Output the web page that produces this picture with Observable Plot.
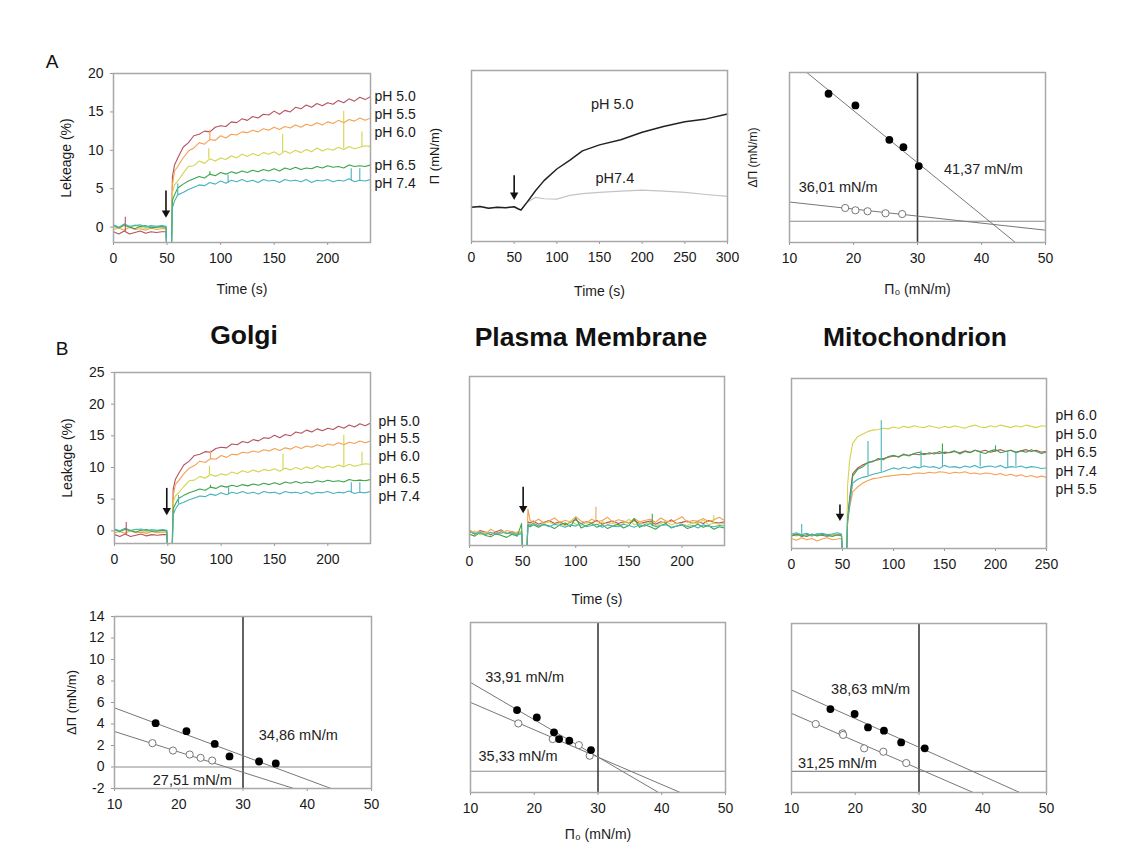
<!DOCTYPE html>
<html><head><meta charset="utf-8">
<script src="https://cdn.jsdelivr.net/npm/d3@7"></script>
<script src="https://cdn.jsdelivr.net/npm/@observablehq/plot@0.6"></script>
<style>
body{margin:0;background:#fff;font-family:"Liberation Sans",Arial,Helvetica,sans-serif;}
#root{position:relative;width:1130px;height:860px;overflow:hidden;background:#fff;}
.lbl{position:absolute;white-space:nowrap;color:#111;transform:translate(-50%,-50%);line-height:1;}
</style></head><body><div id="root"></div>
<script>
// ---------------- DATA ----------------
const PH = ["pH 5.0","pH 5.5","pH 6.0","pH 6.5","pH 7.4"];
const PH_COLORS = ["#b4525e","#f5a052","#d3d54e","#3ba54a","#47b3bb"];

// Golgi (A and B) leakage traces
const T_LEAK = [0,5,10,15,20,25,30,35,40,45,49,50,54,55,57,60,65,70,75,80,85,90,95,100,105,110,115,120,125,130,135,140,145,150,155,160,165,170,175,180,185,190,195,200,205,210,215,220,225,230,235,240];
const GOLGI_50 = [-0.6,-0.9,-0.5,-0.9,-0.7,-0.5,-0.8,-0.6,-0.7,-0.6,-0.6,-4,-4,6.5,8.1,9.0,10.4,11.0,11.9,12.1,12.5,12.4,13.0,13.2,13.1,13.7,13.6,14.1,13.9,14.4,14.2,14.7,14.6,15.1,14.7,15.2,15.0,15.6,15.4,15.9,15.6,16.1,15.8,16.2,16.0,16.5,16.2,16.7,16.4,16.9,16.6,17.0];
const GOLGI_55 = [-0.3,-0.1,-0.4,0.0,-0.3,-0.2,-0.4,-0.1,-0.3,-0.2,-0.2,-4,-4,5.5,7.3,7.9,9.0,9.9,10.3,11.0,10.8,11.4,11.3,11.9,11.6,12.1,12.0,12.4,12.3,12.6,12.4,12.8,12.6,13.0,12.7,13.1,12.9,13.3,13.0,13.4,13.2,13.6,13.3,13.7,13.5,13.9,13.6,14.0,13.8,14.2,13.9,14.2];
const GOLGI_60 = [0.1,-0.2,0.2,-0.1,0.3,0.0,-0.2,0.1,-0.1,0.0,0.0,-4,-4,4.5,5.5,6.0,7.0,7.9,8.0,8.6,8.3,8.9,8.6,9.0,8.8,9.3,9.0,9.5,9.2,9.6,9.3,9.7,9.5,9.8,9.4,9.9,9.6,10.0,9.7,10.1,9.8,10.3,9.9,10.2,10.0,10.4,10.1,10.5,10.2,10.4,10.6,10.5];
const GOLGI_65 = [0.2,-0.1,0.3,0.0,-0.2,0.1,0.2,-0.1,0.0,0.1,0.0,-4,-4,3.5,4.2,5.1,5.6,6.0,6.3,6.6,6.4,6.9,6.7,7.1,6.9,7.2,7.0,7.3,7.1,7.4,7.2,7.5,7.3,7.6,7.3,7.7,7.5,7.8,7.5,7.7,7.6,7.9,7.7,8.0,7.8,7.9,7.7,8.1,7.9,8.0,7.9,8.1];
const GOLGI_74 = [0.3,0.0,0.4,0.1,0.2,0.3,0.0,0.2,0.1,0.2,0.1,-4,-4,2.5,3.4,4.2,4.5,4.9,5.2,5.5,5.4,5.8,5.6,6.0,5.7,6.1,5.9,6.2,5.9,6.1,5.8,6.2,6.0,6.1,5.8,6.2,6.0,6.1,5.9,6.2,5.8,6.1,6.0,6.2,5.9,6.1,6.0,6.3,5.9,6.1,6.0,6.2];
const GOLGI_SPIKE_PH = ["pH 5.0","pH 5.5","pH 6.0","pH 6.0","pH 6.0","pH 6.0","pH 6.5","pH 7.4","pH 7.4","pH 7.4","pH 7.4"];
const GOLGI_SPIKE_T  = [11,90,89,158,215,232,90,60,107,222,230];
const GOLGI_SPIKE_LO = [-0.6,11.3,8.9,9.7,10.2,10.4,6.7,4.2,5.7,6.0,6.0];
const GOLGI_SPIKE_HI = [1.3,12.6,10.2,12.1,15.1,12.4,7.2,5.6,6.8,7.6,7.6];
const A_LABEL_Y = [17.0,14.6,12.3,8.0,5.7];
const B_LABEL_Y = [17.3,14.6,11.7,8.3,5.4];

// Plasma membrane leakage traces
const PM_50 = [0.3,-0.2,0.4,0.1,-0.3,0.2,0.5,-0.1,0.2,0.0,0.1,-3,-3,1.8,1.6,1.9,1.4,1.7,2.0,1.5,1.8,1.3,1.7,2.1,1.5,1.8,1.6,2.0,1.4,1.7,1.9,1.5,1.8,1.6,2.0,1.5,1.7,1.9,1.4,1.8,1.6,2.1,1.5,1.7,1.9,1.6,1.8,1.5,2.0,1.7,1.6,1.8];
const PM_55 = [0.5,0.0,0.3,-0.2,0.6,0.1,-0.1,0.4,0.2,-0.2,0.3,-3,-3,3.8,2.0,1.7,2.2,1.6,1.9,2.4,1.7,2.0,1.8,2.6,1.9,1.6,2.2,1.8,2.0,2.5,1.7,2.1,1.9,1.6,2.3,1.8,2.0,2.2,1.7,2.4,1.9,1.8,2.1,2.6,1.7,2.0,1.9,2.3,1.8,2.1,2.5,2.0];
const PM_60 = [0.0,0.3,-0.3,0.2,0.0,-0.2,0.3,0.1,-0.3,0.2,0.0,-3,-3,1.5,1.3,1.6,1.2,1.5,1.8,1.3,1.6,1.1,1.9,1.4,1.2,1.7,1.5,1.3,1.8,1.4,1.6,1.2,1.5,2.2,1.3,1.6,1.4,1.7,1.2,1.5,1.9,1.3,1.6,1.4,1.2,1.7,1.5,2.1,1.3,1.6,1.4,1.5];
const PM_65 = [-0.2,-0.5,0.1,-0.4,-0.6,-0.1,-0.4,-0.7,-0.2,-0.5,1.5,-3,-3,1.2,1.0,1.3,0.9,1.4,1.1,0.7,1.3,1.6,1.0,2.4,0.8,1.2,1.5,0.9,1.3,0.7,1.1,1.4,0.8,1.2,2.3,0.9,1.3,1.0,0.6,1.2,1.5,0.8,1.1,1.3,0.7,1.0,1.4,0.9,1.2,0.6,1.0,0.8];
const PM_74 = [0.2,-0.1,0.0,-0.3,0.1,-0.2,0.2,-0.1,0.0,-0.3,-0.1,-3,-3,1.4,1.2,1.5,1.1,1.3,1.0,1.4,1.2,0.9,1.3,1.1,1.5,1.0,1.2,1.4,0.9,1.3,1.1,1.0,1.4,1.2,0.9,1.3,1.1,1.5,1.0,1.2,1.3,0.9,1.1,1.4,1.0,1.2,0.8,1.3,1.1,1.0,1.2,1.1];
const PM_SPIKE_PH = ["pH 5.5","pH 6.5","pH 6.0"];
const PM_SPIKE_T  = [119,172,230];
const PM_SPIKE_LO = [2.0,1.0,1.5];
const PM_SPIKE_HI = [4.1,3.0,2.8];

// Mitochondrion leakage traces
const T_MITO = [0,5,10,15,20,25,30,35,40,45,49,50,54,55,57,60,65,70,75,80,85,90,95,100,105,110,115,120,125,130,135,140,145,150,155,160,165,170,175,180,185,190,195,200,205,210,215,220,225,230,235,240,245,250];
const MITO_50 = [0.1,0.3,-0.1,0.2,0.0,0.3,0.1,-0.1,0.2,0.1,0.2,-3,-3,3.0,6.0,9.9,10.8,11.3,11.6,11.9,12.1,12.3,12.5,12.7,12.6,12.9,12.8,13.0,12.9,13.1,13.0,13.2,13.1,13.3,13.2,13.4,13.2,13.5,13.3,13.6,13.4,13.6,13.3,13.5,13.7,13.4,13.6,13.3,13.5,13.7,13.4,13.6,13.3,13.4];
const MITO_55 = [-0.4,-0.7,-0.3,-0.6,-0.4,-0.8,-0.5,-0.3,-0.6,-0.5,-0.4,-3,-3,2.0,4.5,7.0,7.8,8.4,8.8,9.1,9.2,9.4,9.5,9.6,9.7,9.8,9.7,9.9,10.0,9.9,10.1,10.0,10.2,10.1,9.9,10.1,10.0,10.2,9.9,10.0,9.8,10.0,9.9,9.7,9.9,9.6,9.8,9.5,9.7,9.4,9.6,9.3,9.5,9.3];
const MITO_60 = [0.2,0.0,0.3,-0.1,0.2,0.1,0.3,0.0,0.2,0.1,0.1,-3,-3,8.0,12.0,14.7,15.8,16.2,16.6,16.8,16.9,17.1,17.0,17.3,17.1,17.4,17.2,17.5,17.3,17.2,17.5,17.3,17.1,17.4,17.2,17.5,17.3,17.1,17.4,17.6,17.3,17.2,17.5,17.3,17.6,17.4,17.2,17.5,17.3,17.6,17.4,17.2,17.5,17.4];
const MITO_65 = [0.0,0.2,0.1,-0.1,0.3,0.0,0.2,0.1,-0.1,0.2,0.0,-3,-3,2.5,5.5,9.5,10.6,11.0,11.7,11.8,12.3,12.1,12.6,12.8,12.5,13.0,12.7,13.1,13.3,12.9,13.2,13.0,13.4,13.1,13.3,13.5,13.0,13.4,13.2,13.6,13.3,13.1,13.5,13.7,13.2,13.4,13.6,13.2,13.5,13.3,13.7,13.4,13.1,13.3];
const MITO_74 = [0.3,0.5,0.2,0.4,0.1,0.3,0.4,0.2,0.3,0.5,0.3,-3,-3,2.5,5.0,8.4,9.0,9.3,9.5,9.8,10.0,10.2,10.5,10.8,10.6,10.9,10.7,11.0,10.8,11.1,10.9,11.0,10.7,11.2,10.9,11.0,10.8,11.1,10.9,11.2,10.8,11.0,11.1,10.9,11.2,10.8,11.0,10.9,11.1,10.8,11.0,10.9,10.7,10.8];
const MITO_SPIKE_PH = ["pH 7.4","pH 7.4","pH 7.4","pH 7.4","pH 7.4","pH 7.4","pH 7.4","pH 7.4","pH 6.5","pH 6.5","pH 6.5","pH 6.0","pH 7.4"];
const MITO_SPIKE_T  = [10,75,88,127,148,185,212,220,148,200,250,250,250];
const MITO_SPIKE_LO = [0.3,9.5,10.1,10.9,11.0,11.0,10.9,11.0,13.1,13.3,-3,17.4,-3];
const MITO_SPIKE_HI = [1.8,15.0,18.3,13.5,13.8,13.0,13.2,13.4,14.6,14.3,13.3,20.0,10.8];
const MITO_LABELS = ["pH 6.0","pH 5.0","pH 6.5","pH 7.4","pH 5.5"];
const MITO_LABEL_Y = [19.2,16.1,13.2,10.2,7.3];

// Injection arrows [time, top, tip]
const ARROW_A1 = [49,4.7,1.6];
const ARROW_B1 = [49,6.7,2.9];
const ARROW_PM = [50.5,7.3,3.6];
const ARROW_MITO = [47.5,4.9,2.8];
const ARROW_PI = [50,3.85,2.6];

// Surface pressure traces (A, middle)
const T_PI = [0,10,20,30,40,50,55,58,65,75,85,100,115,130,150,175,200,225,250,275,300];
const PI_50 = [2.0,2.05,1.95,2.0,1.98,2.03,1.9,1.84,2.29,2.97,3.56,4.24,4.75,5.3,5.65,5.95,6.39,6.72,7.0,7.17,7.46];
const PI_74 = [2.0,2.05,1.95,2.0,1.98,2.03,1.9,1.84,2.3,2.58,2.5,2.48,2.7,2.8,2.87,2.95,3.01,2.95,2.87,2.75,2.64];

// ΔΠ vs Π0 data: filled (pH 5.0) and open (pH 7.4) points, fitted line ends
const A3_FX = [16.1,20.3,25.6,27.8,30.2], A3_FY = [12.0,10.9,7.66,6.97,5.19];
const A3_OX = [18.7,20.3,22.2,25.0,27.6], A3_OY = [1.25,1.03,0.94,0.75,0.68];
const A3_FLX = [12.7,45.3], A3_FLY = [14.0,-2.0];
const A3_OLX = [10,50], A3_OLY = [1.81,-0.84];
const A3_TEXT = ["41,37 mN/m","36,01 mN/m"], A3_TX = [40.3,17.6], A3_TY = [4.9,3.2];

const B4_FX = [16.4,21.2,25.6,27.9,32.5,35.1], B4_FY = [4.08,3.33,2.15,0.98,0.51,0.33];
const B4_OX = [15.9,19.1,21.7,23.4,25.2], B4_OY = [2.22,1.53,1.16,0.85,0.6];
const B4_FLX = [10,43.7], B4_FLY = [5.5,-2];
const B4_OLX = [10,37.9], B4_OLY = [3.3,-2];
const B4_TEXT = ["34,86 mN/m","27,51 mN/m"], B4_TX = [38.6,22.1], B4_TY = [2.93,-1.26];

const B5_FX = [17.3,20.4,23.1,23.9,25.5,28.9], B5_FY = [5.76,5.07,3.66,3.03,2.87,1.99];
const B5_OX = [17.5,22.9,27.0,28.7], B5_OY = [4.5,3.03,2.46,1.46];
const B5_FLX = [10,39.5], B5_FLY = [8.36,-2];
const B5_OLX = [10,42.9], B5_OLY = [6.48,-2];
const B5_TEXT = ["33,91 mN/m","35,33 mN/m"], B5_TX = [18.5,17.45], B5_TY = [8.8,1.38];

const B6_FX = [16.1,19.9,22.0,24.5,27.2,30.9], B6_FY = [5.9,5.43,4.16,3.85,2.74,2.18];
const B6_OX = [13.8,18.0,18.1,21.4,24.4,28.0], B6_OY = [4.48,3.6,3.45,2.18,1.86,0.79];
const B6_FLX = [10,45.8], B6_FLY = [7.7,-2];
const B6_OLX = [10,38.5], B6_OLY = [5.49,-2];
const B6_TEXT = ["38,63 mN/m","31,25 mN/m"], B6_TX = [22.4,17.2], B6_TY = [7.8,0.75];

// ---------------- DRAWING ----------------
const root = document.getElementById("root");
const FONT = "'Liberation Sans', Arial, Helvetica, sans-serif";
const ML = 64, MR = 70, MT = 12, MB = 66;
const fmt = d => String(d);
const zip = (xs, ys) => xs.map((x, i) => ({x, y: ys[i]}));

function panel(o) {
  const [l, t, r, b] = o.frame;
  const marks = [...o.marks];
  marks.push(Plot.axisX({ticks: o.xTicks, tickSize: 3, tickPadding: 8, tickFormat: fmt, stroke: "#999", label: null, fontSize: 14}));
  if (o.xLabel) marks.push(Plot.axisX({ticks: [], label: o.xLabel, labelAnchor: "center", labelArrow: "none", labelOffset: o.xLabelOffset, fontSize: 14}));
  if (o.yTicks) marks.push(Plot.axisY({ticks: o.yTicks, tickSize: 3, tickPadding: 7, tickFormat: fmt, stroke: "#999", label: null, fontSize: 14}));
  if (o.yLabel) marks.push(Plot.axisY({ticks: [], label: o.yLabel, labelAnchor: "center", labelArrow: "none", labelOffset: o.yLabelOffset, fontSize: o.yLabelSize || 13}));
  marks.push(Plot.frame({stroke: "#a8a8a8", strokeWidth: 1.5}));
  const svg = Plot.plot({
    width: ML + (r - l) + MR, height: MT + (b - t) + MB,
    marginLeft: ML, marginRight: MR, marginTop: MT, marginBottom: MB,
    x: {domain: o.xDomain, axis: null},
    y: {domain: o.yDomain, axis: null},
    color: {domain: PH, range: PH_COLORS},
    style: {fontFamily: FONT, fontSize: "14px", color: "#1a1a1a", background: "transparent", overflow: "visible", maxWidth: "none"},
    marks
  });
  svg.style.position = "absolute";
  svg.style.left = (l - ML) + "px";
  svg.style.top = (t - MT) + "px";
  root.append(svg);
}

function leakMarks(times, series, spk, arrow, labels, labelY, labelDx) {
  const rows = [];
  series.forEach((vals, i) => vals.forEach((v, j) => rows.push({t: times[j], v, ph: PH[i]})));
  const spikes = spk[1].map((t, i) => ({t, lo: spk[2][i], hi: spk[3][i], ph: spk[0][i]}));
  const arr = [{t: arrow[0], y1: arrow[1], y2: arrow[2]}];
  const marks = [
    Plot.line(rows, {x: "t", y: "v", z: "ph", stroke: "ph", strokeWidth: 1.1, clip: true}),
    Plot.ruleX(spikes, {x: "t", y1: "lo", y2: "hi", stroke: "ph", strokeWidth: 1.1, clip: true}),
    Plot.ruleX(arr, {x: "t", y1: "y1", y2: "y2", stroke: "#111", strokeWidth: 1.6}),
    Plot.dot(arr, {x: "t", y: "y2", symbol: "triangle2", rotate: 180, r: 4, fill: "#111", stroke: null, dy: -2})
  ];
  if (labels) marks.push(Plot.text(labels.map((s, i) => ({s, y: labelY[i]})), {y: "y", text: "s", frameAnchor: "right", textAnchor: "start", dx: labelDx, fontSize: 14}));
  return marks;
}

function piMarks(fx, fy, ox, oy, flx, fly, olx, oly, texts, tx, ty) {
  return [
    Plot.ruleY([0], {stroke: "#8c8c8c", strokeWidth: 1.2}),
    Plot.ruleX([30], {stroke: "#3c3c3c", strokeWidth: 1.6}),
    Plot.line(zip(flx, fly), {x: "x", y: "y", stroke: "#777", strokeWidth: 1, clip: true}),
    Plot.line(zip(olx, oly), {x: "x", y: "y", stroke: "#777", strokeWidth: 1, clip: true}),
    Plot.dot(zip(ox, oy), {x: "x", y: "y", r: 3.6, fill: "white", stroke: "#777", strokeWidth: 1}),
    Plot.dot(zip(fx, fy), {x: "x", y: "y", r: 3.9, fill: "#000", stroke: null}),
    Plot.text(texts.map((s, i) => ({s, x: tx[i], y: ty[i]})), {x: "x", y: "y", text: "s", fontSize: 14.5, fill: "#222"})
  ];
}

const GOLGI = [GOLGI_50, GOLGI_55, GOLGI_60, GOLGI_65, GOLGI_74];
const GOLGI_SPK = [GOLGI_SPIKE_PH, GOLGI_SPIKE_T, GOLGI_SPIKE_LO, GOLGI_SPIKE_HI];

// A1
panel({frame: [113, 72.5, 370, 241.5], xDomain: [0, 240], yDomain: [-2, 20],
  xTicks: [0, 50, 100, 150, 200], yTicks: [0, 5, 10, 15, 20],
  xLabel: "Time (s)", xLabelOffset: 51, yLabel: "Lekeage (%)", yLabelOffset: 52, yLabelSize: 14,
  marks: leakMarks(T_LEAK, GOLGI, GOLGI_SPK, ARROW_A1, PH, A_LABEL_Y, 4)});

// A2
panel({frame: [471, 70, 727, 241], xDomain: [0, 300], yDomain: [0, 10],
  xTicks: [0, 50, 100, 150, 200, 250, 300],
  xLabel: "Time (s)", xLabelOffset: 54, yLabel: "Π (mN/m)", yLabelOffset: 42, yLabelSize: 13,
  marks: [
    Plot.line(zip(T_PI, PI_74), {x: "x", y: "y", stroke: "#c4c4c4", strokeWidth: 1.2}),
    Plot.line(zip(T_PI, PI_50), {x: "x", y: "y", stroke: "#222", strokeWidth: 1.5}),
    Plot.ruleX([{t: ARROW_PI[0], y1: ARROW_PI[1], y2: ARROW_PI[2]}], {x: "t", y1: "y1", y2: "y2", stroke: "#111", strokeWidth: 1.6}),
    Plot.dot([{t: ARROW_PI[0], y: ARROW_PI[2]}], {x: "t", y: "y", symbol: "triangle2", rotate: 180, r: 4, fill: "#111", stroke: null, dy: -2}),
    Plot.text([{s: "pH 5.0", x: 165, y: 8.0}, {s: "pH7.4", x: 168, y: 3.67}], {x: "x", y: "y", text: "s", fontSize: 14.5, fill: "#222"})
  ]});

// A3
panel({frame: [789, 72, 1045, 242], xDomain: [10, 50], yDomain: [-2, 14],
  xTicks: [10, 20, 30, 40, 50],
  xLabel: "Π₀ (mN/m)", xLabelOffset: 51, yLabel: "ΔΠ (mN/m)", yLabelOffset: 41, yLabelSize: 12,
  marks: piMarks(A3_FX, A3_FY, A3_OX, A3_OY, A3_FLX, A3_FLY, A3_OLX, A3_OLY, A3_TEXT, A3_TX, A3_TY)});

// B1 Golgi
panel({frame: [114, 372, 370, 543], xDomain: [0, 240], yDomain: [-2, 25],
  xTicks: [0, 50, 100, 150, 200], yTicks: [0, 5, 10, 15, 20, 25],
  yLabel: "Leakage (%)", yLabelOffset: 52, yLabelSize: 14,
  marks: leakMarks(T_LEAK, GOLGI, GOLGI_SPK, ARROW_B1, PH, B_LABEL_Y, 8)});

// B2 Plasma membrane
panel({frame: [469, 376, 724, 545], xDomain: [0, 240], yDomain: [-2, 25],
  xTicks: [0, 50, 100, 150, 200],
  xLabel: "Time (s)", xLabelOffset: 58,
  marks: leakMarks(T_LEAK, [PM_50, PM_55, PM_60, PM_65, PM_74], [PM_SPIKE_PH, PM_SPIKE_T, PM_SPIKE_LO, PM_SPIKE_HI], ARROW_PM, null)});

// B3 Mitochondrion
panel({frame: [791, 378, 1046, 548], xDomain: [0, 250], yDomain: [-2, 25],
  xTicks: [0, 50, 100, 150, 200, 250],
  marks: leakMarks(T_MITO, [MITO_50, MITO_55, MITO_60, MITO_65, MITO_74], [MITO_SPIKE_PH, MITO_SPIKE_T, MITO_SPIKE_LO, MITO_SPIKE_HI], ARROW_MITO, MITO_LABELS, MITO_LABEL_Y, 9)});

// B4
panel({frame: [114, 616, 371, 788], xDomain: [10, 50], yDomain: [-2, 14],
  xTicks: [10, 20, 30, 40, 50], yTicks: [-2, 0, 2, 4, 6, 8, 10, 12, 14],
  yLabel: "ΔΠ (mN/m)", yLabelOffset: 48, yLabelSize: 13,
  marks: piMarks(B4_FX, B4_FY, B4_OX, B4_OY, B4_FLX, B4_FLY, B4_OLX, B4_OLY, B4_TEXT, B4_TX, B4_TY)});

// B5
panel({frame: [470, 622, 725, 792], xDomain: [10, 50], yDomain: [-2, 14],
  xTicks: [10, 20, 30, 40, 50],
  xLabel: "Π₀ (mN/m)", xLabelOffset: 46,
  marks: piMarks(B5_FX, B5_FY, B5_OX, B5_OY, B5_FLX, B5_FLY, B5_OLX, B5_OLY, B5_TEXT, B5_TX, B5_TY)});

// B6
panel({frame: [791, 623, 1046, 792], xDomain: [10, 50], yDomain: [-2, 14],
  xTicks: [10, 20, 30, 40, 50],
  marks: piMarks(B6_FX, B6_FY, B6_OX, B6_OY, B6_FLX, B6_FLY, B6_OLX, B6_OLY, B6_TEXT, B6_TX, B6_TY)});

// Titles and panel letters
const TITLES = [["A", 52, 61, 19, 400], ["B", 62, 348, 19, 400], ["Golgi", 244, 335, 26.5, 700], ["Plasma Membrane", 591, 337, 26.5, 700], ["Mitochondrion", 915, 337, 26.5, 700]];
for (const [s, x, y, fs, fw] of TITLES) {
  const d = document.createElement("div");
  d.className = "lbl";
  d.textContent = s;
  d.style.left = x + "px"; d.style.top = y + "px";
  d.style.fontSize = fs + "px"; d.style.fontWeight = fw;
  root.append(d);
}
</script></body></html>
